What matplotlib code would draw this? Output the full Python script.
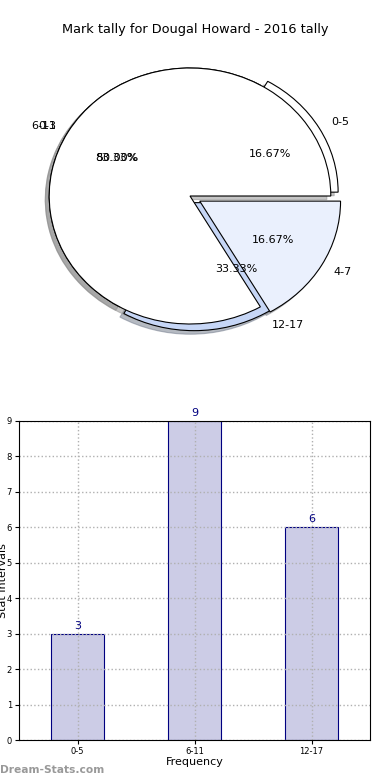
import matplotlib
matplotlib.use("Agg")
import matplotlib.pyplot as plt

title = "Mark tally for Dougal Howard - 2016 tally"
# first pie (tally per interval)
pie1_labels = ["0-5", "6-11", "12-17"]
pie1_values = [3, 9, 6]
pie1_colors = ["white", "white", "#c6d6f6"]
pie1_explode = [0.06, 0.0, 0.06]
# second pie overlaid
pie2_labels = ["0-3", "4-7"]
pie2_values = [5, 1]
pie2_colors = ["white", "#eaf0fd"]
pie2_explode = [0.0, 0.08]

bar_categories = ["0-5", "6-11", "12-17"]
bar_values = [3, 9, 6]

fig = plt.figure(figsize=(3.9, 7.8), dpi=100)
fig.text(0.5, 1 - 30 / 780, title, ha="center", va="center", fontsize=9.3)

axp = fig.add_axes([14 / 390, 1 - 356 / 780, 352 / 390, 320 / 780])
for vals, labs, cols, exp in [
        (pie1_values, pie1_labels, pie1_colors, pie1_explode),
        (pie2_values, pie2_labels, pie2_colors, pie2_explode)]:
    axp.pie(vals, labels=labs, colors=cols, explode=exp,
            autopct="%.2f%%", shadow={"shade": 0.45},
            wedgeprops=dict(edgecolor="black", linewidth=0.8),
            textprops=dict(fontsize=8))
axp.set_aspect("auto")
axp.set_xlim(-1.25, 1.25)
axp.set_ylim(-1.25, 1.25)
axp.set_axis_off()

axb = fig.add_axes([19 / 390, 40 / 780, 351 / 390, 319 / 780])
x = list(range(len(bar_categories)))
axb.bar(x, bar_values, width=0.45, color="#cccce6",
        edgecolor="#000080", linewidth=0.8)
for xi, v in zip(x, bar_values):
    axb.text(xi, v + 0.08, str(v), ha="center", va="bottom", fontsize=8, color="#000080")
axb.set_xlim(-0.5, 2.5)
axb.set_ylim(0, 9)
axb.set_xticks(x)
axb.set_xticklabels(bar_categories, fontsize=6)
axb.set_yticks(range(0, 10))
axb.tick_params(axis="y", labelsize=6, length=3, pad=2)
axb.tick_params(axis="x", length=3, pad=2)
axb.set_axisbelow(False)
axb.grid(True, linestyle=":", color="#b0b0b0", linewidth=1)
for sp in axb.spines.values():
    sp.set_zorder(5)
axb.set_xlabel("Frequency", fontsize=8, labelpad=1)
axb.set_ylabel("Stat Intervals", fontsize=8)
axb.yaxis.set_label_coords(-0.031, 0.5)

fig.text(0.0, 10 / 780, "Dream-Stats.com", fontsize=7.7, color="#999999",
         fontweight="bold", ha="left", va="center")

fig.savefig("out.png", dpi=100)
